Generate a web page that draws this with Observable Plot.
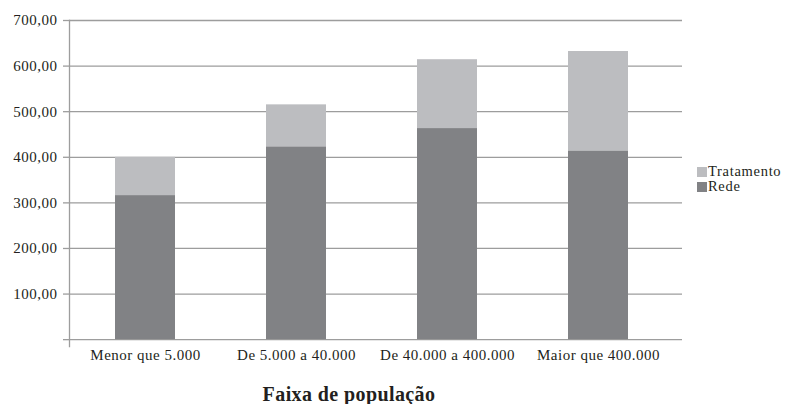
<!DOCTYPE html>
<html>
<head>
<meta charset="utf-8">
<script src="https://cdn.jsdelivr.net/npm/d3@7"></script>
<script src="https://cdn.jsdelivr.net/npm/@observablehq/plot@0.6"></script>
<style>
  html, body { margin: 0; padding: 0; background: #fff; }
  #wrap { position: relative; width: 787px; height: 404px; font-family: "Liberation Serif", serif; color: #231f20; }
  #title { position: absolute; left: 0; width: 698px; top: 383px; text-align: center; font-weight: bold; font-size: 20px; letter-spacing: 0.4px; }
  #legend { position: absolute; left: 697px; top: 164px; font-size: 14.5px; letter-spacing: 0.7px; line-height: 15px; }
  .lg { display: flex; align-items: center; height: 15px; }
  .sw { width: 10px; height: 10px; display: inline-block; margin-right: 1px; }
</style>
</head>
<body>
<div id="wrap">
  <div id="chart"></div>
  <div id="legend"></div>
  <div id="title">Faixa de população</div>
</div>
<script>
const categories = ["Menor que 5.000", "De 5.000 a 40.000", "De 40.000 a 400.000", "Maior que 400.000"];
const rede = [316, 423, 463, 414];
const tratamento = [84, 92, 151, 218];
const series = ["Rede", "Tratamento"];
const colors = ["#818285", "#bcbdc0"];
const yTicks = [0, 100, 200, 300, 400, 500, 600, 700];
const legendOrder = ["Tratamento", "Rede"];

const data = [];
categories.forEach((c, i) => data.push({cat: c, serie: "Rede", value: rede[i]}));
categories.forEach((c, i) => data.push({cat: c, serie: "Tratamento", value: tratamento[i]}));

const fmt = d => d === 0 ? "" : d.toFixed(2).replace(".", ",");

const chart = Plot.plot({
  width: 787,
  height: 404,
  marginLeft: 69,
  marginRight: 105,
  marginTop: 20,
  marginBottom: 58,
  style: {fontFamily: "Liberation Serif, serif", fontSize: "15px", color: "#231f20", letterSpacing: "0.5px"},
  x: {domain: categories, range: [69, 675], paddingInner: 0.6, paddingOuter: 0.3, label: null},
  y: {domain: [-15, 700], label: null},
  color: {domain: series, range: colors},
  marks: [
    Plot.ruleY(yTicks, {stroke: "#9d9d9d", strokeWidth: 1.3}),
    Plot.barY(data, Plot.stackY({x: "cat", y: "value", fill: "serie", order: null})),
    Plot.frame({anchor: "left", stroke: "#9d9d9d", strokeWidth: 1.3}),
    Plot.axisY({ticks: yTicks, tickFormat: fmt, tickSize: 6, tickPadding: 6, stroke: "#9d9d9d", strokeWidth: 1.3, label: null}),
    Plot.axisX({tickSize: 0, tickPadding: 3, label: null})
  ]
});
document.getElementById("chart").appendChild(chart);

const legend = document.getElementById("legend");
legendOrder.forEach(s => {
  const row = document.createElement("div");
  row.className = "lg";
  const sw = document.createElement("span");
  sw.className = "sw";
  sw.style.background = colors[series.indexOf(s)];
  row.appendChild(sw);
  row.appendChild(document.createTextNode(s));
  legend.appendChild(row);
});
</script>
</body>
</html>
